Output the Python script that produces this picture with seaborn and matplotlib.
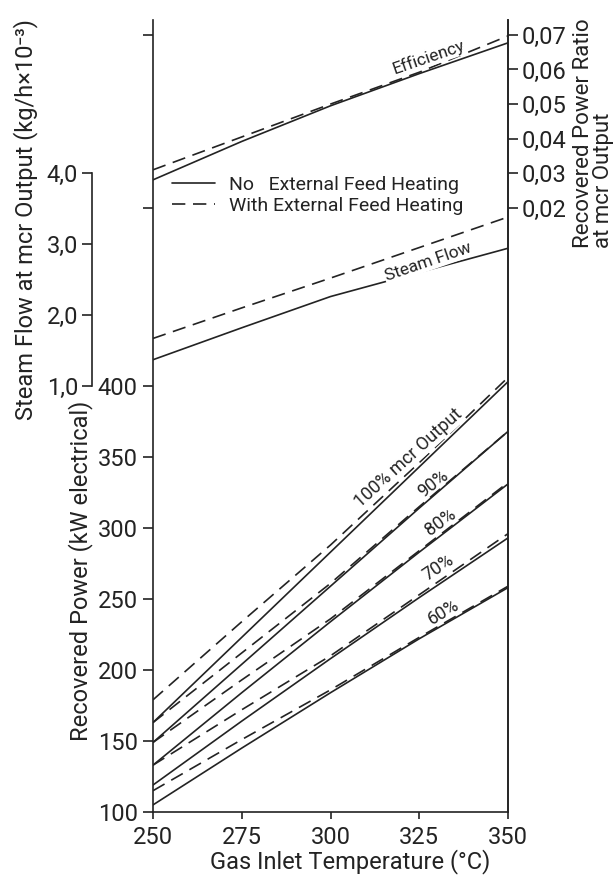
import numpy as np
import pandas as pd
import matplotlib
matplotlib.use("Agg")
import matplotlib.pyplot as plt
import seaborn as sns
from matplotlib.lines import Line2D

# --- data ---
temps = [250, 275, 300, 325, 350]
loads = ["100%", "90%", "80%", "70%", "60%"]

# recovered power (kW electrical), no external feed heating (solid)
power_no = [
    [163, 223, 283, 343, 403],
    [149, 204, 259, 314, 368],
    [133, 184, 234, 283, 331],
    [119, 164, 208, 251, 293],
    [105, 145, 184, 222, 258],
]
# with external feed heating (dashed)
power_with = [
    [179, 234, 288, 346, 406],
    [163, 212, 261, 315, 368],
    [149, 193, 236, 284, 332],
    [133, 172, 210, 253, 296],
    [115, 151, 186, 223, 259],
]

eff_no = [0.0281, 0.0392, 0.0495, 0.0588, 0.0677]
eff_with = [0.0310, 0.0405, 0.0500, 0.0592, 0.0697]

steam_no = [1.37, 1.82, 2.26, 2.60, 2.94]
steam_with = [1.67, 2.10, 2.52, 2.95, 3.38]

power_ticks = [100, 150, 200, 250, 300, 350, 400]
power_ticklabels = ["100", "150", "200", "250", "300", "350", "400"]
eff_ticks = [0.02, 0.03, 0.04, 0.05, 0.06, 0.07]
eff_ticklabels = ["0,02", "0,03", "0,04", "0,05", "0,06", "0,07"]
steam_ticks = [1.0, 2.0, 3.0, 4.0]
steam_ticklabels = ["1,0", "2,0", "3,0", "4,0"]
temp_ticks = [250, 275, 300, 325, 350]

legend_labels = ["No   External Feed Heating", "With External Feed Heating"]

# --- long-form tables ---
rows = []
for i, load in enumerate(loads):
    for t, p_no, p_w in zip(temps, power_no[i], power_with[i]):
        rows.append((t, p_no, load, "No"))
        rows.append((t, p_w, load, "With"))
df_power = pd.DataFrame(rows, columns=["temp", "power", "load", "heating"])

df_eff = pd.DataFrame({
    "temp": temps * 2,
    "eff": eff_no + eff_with,
    "heating": ["No"] * len(temps) + ["With"] * len(temps),
})
df_steam = pd.DataFrame({
    "temp": temps * 2,
    "flow": steam_no + steam_with,
    "heating": ["No"] * len(temps) + ["With"] * len(temps),
})

# --- style ---
sns.set_style("ticks")
plt.rcParams["font.family"] = ["Roboto", "DejaVu Sans"]
ink = "#232323"
lw = 1.2
dash_map = {"No": "", "With": (8, 4.6)}
plt.rcParams.update({
    "axes.edgecolor": ink, "axes.linewidth": lw,
    "xtick.color": ink, "ytick.color": ink,
    "xtick.major.width": lw, "ytick.major.width": lw,
    "text.color": ink, "axes.labelcolor": ink,
})
tick_fs = 17
label_fs = 17

# axis ranges (so that all three scales line up as in the reference)
P_LIM = (100, 657.7)
EFF_LIM = (-0.1546, 0.0743)
SF_LIM = (-5.0, 6.155)

fig = plt.figure(figsize=(6.16, 8.8), dpi=100)
ax = fig.add_axes([153 / 616, 68 / 880, 355 / 616, 792 / 880])
ax_eff = ax.twinx()
ax_sf = ax.twinx()

# --- recovered power ---
sns.lineplot(data=df_power, x="temp", y="power", units="load", estimator=None,
             style="heating", dashes=dash_map, color=ink, lw=lw,
             legend=False, sort=False, ax=ax)
ax.set_xlim(250, 350)
ax.set_ylim(*P_LIM)

# unlabeled ticks on left spine level with eff 0.07 / 0.02
def eff_to_power(e):
    return P_LIM[0] + (e - EFF_LIM[0]) / (EFF_LIM[1] - EFF_LIM[0]) * (P_LIM[1] - P_LIM[0])

extra = [eff_to_power(eff_ticks[-1]), eff_to_power(eff_ticks[0])]
ax.set_yticks(power_ticks + extra, power_ticklabels + ["", ""])
ax.set_xticks(temp_ticks, [str(t) for t in temp_ticks])
ax.tick_params(axis="y", length=7, pad=4, labelsize=tick_fs)
ax.tick_params(axis="x", length=5, pad=5, labelsize=tick_fs)
ax.spines["top"].set_visible(False)
ax.set_xlabel("Gas Inlet Temperature (°C)", fontsize=label_fs)
ax.xaxis.set_label_coords(0.555, -0.047)
ax.set_ylabel("Recovered Power (kW electrical)", fontsize=label_fs)
ax.yaxis.set_label_coords(-0.168, 0.305)

for lab, (t, p, rot) in zip(loads, [(322, 349, 42), (329, 331, 38), (331, 304, 36),
                                     (330.5, 272, 34), (332, 241, 31)]):
    txt = lab + " mcr Output" if lab == "100%" else lab
    box = dict(facecolor="white", edgecolor="none", pad=0.3) if lab == "100%" else None
    ax.text(t, p, txt, rotation=rot, ha="center", va="center",
            rotation_mode="anchor", fontsize=13, bbox=box)

# --- efficiency (right axis) ---
sns.lineplot(data=df_eff, x="temp", y="eff", style="heating", dashes=dash_map,
             color=ink, lw=lw, legend=False, ax=ax_eff)
ax_eff.set_ylim(*EFF_LIM)
ax_eff.set_yticks(eff_ticks, eff_ticklabels)
ax_eff.tick_params(axis="y", length=7, pad=3, labelsize=tick_fs)
for s in ["top", "left", "bottom"]:
    ax_eff.spines[s].set_visible(False)
ax_eff.set_ylabel("Recovered Power Ratio\nat mcr Output", fontsize=16,
                  linespacing=0.95)
ax_eff.yaxis.label.set_ha("left")
ax_eff.yaxis.label.set_multialignment("left")
ax_eff.yaxis.set_label_coords(1.183, 0.712)
ax_eff.text(327.6, 0.0636, "Efficiency", rotation=19, ha="center", va="center",
            rotation_mode="anchor", fontsize=12.5,
            bbox=dict(facecolor="white", edgecolor="none", pad=1))

# --- steam flow (offset left axis) ---
sns.lineplot(data=df_steam, x="temp", y="flow", style="heating", dashes=dash_map,
             color=ink, lw=lw, legend=False, ax=ax_sf)
ax_sf.set_ylim(*SF_LIM)
ax_sf.yaxis.tick_left()
ax_sf.yaxis.set_label_position("left")
for s in ["top", "right", "bottom"]:
    ax_sf.spines[s].set_visible(False)
ax_sf.spines["left"].set_visible(True)
ax_sf.spines["left"].set_position(("axes", -0.172))
ax_sf.spines["left"].set_bounds(steam_ticks[0], steam_ticks[-1])
ax_sf.set_yticks(steam_ticks, steam_ticklabels)
ax_sf.tick_params(axis="y", length=7, pad=3, labelsize=tick_fs)
ax_sf.set_ylabel("Steam Flow at mcr Output (kg/h×10⁻³)", fontsize=label_fs)
ax_sf.yaxis.set_label_coords(-0.325, 0.748)
ax_sf.text(327.6, 2.75, "Steam Flow", rotation=19, ha="center",
           va="center", rotation_mode="anchor", fontsize=12.5,
           bbox=dict(facecolor="white", edgecolor="none", pad=1))

# --- legend ---
handles = [Line2D([], [], color=ink, lw=lw, ls="-"),
           Line2D([], [], color=ink, lw=lw, dashes=dash_map["With"])]
ax.legend(handles, legend_labels, loc="upper left",
          bbox_to_anchor=(0.053, 0.803), frameon=False, fontsize=14,
          handlelength=2.2, handletextpad=0.75, labelspacing=0.15,
          borderaxespad=0, borderpad=0)

fig.savefig("out.png", dpi=100)
